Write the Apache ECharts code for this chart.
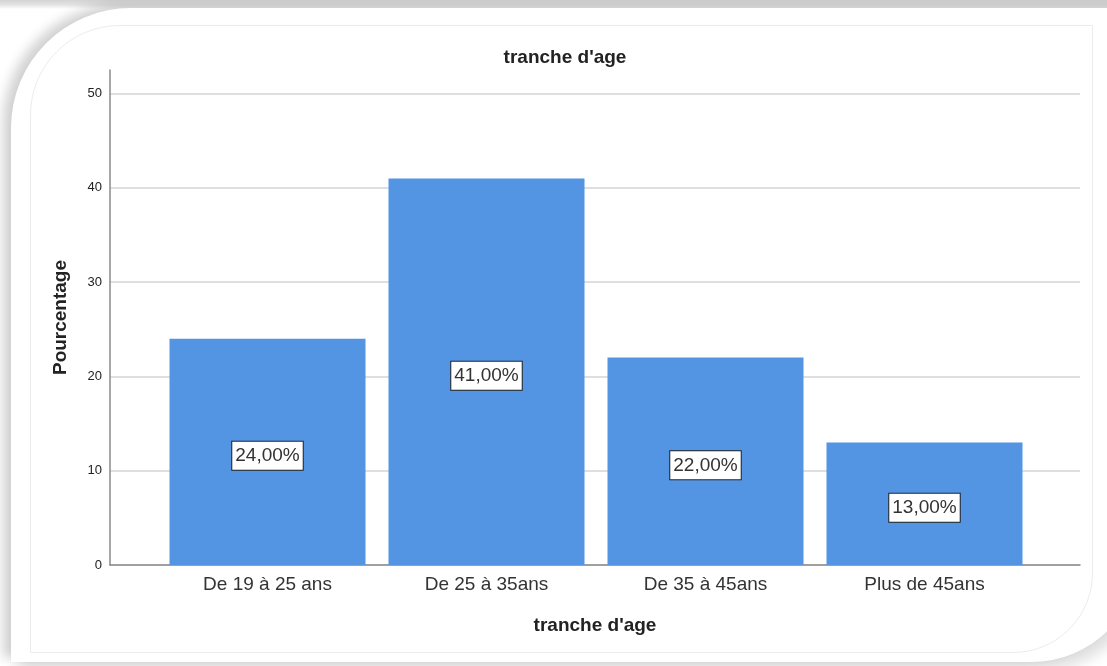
<!DOCTYPE html>
<html>
<head>
<meta charset="utf-8">
<script src="https://cdn.jsdelivr.net/npm/echarts@6/dist/echarts.min.js"></script>
<style>
  html, body { margin: 0; padding: 0; width: 1107px; height: 666px; overflow: hidden; background: #ffffff; }
  #bg { position: absolute; left: 0; top: 0; width: 1107px; height: 666px;
        background: linear-gradient(180deg, #d4d4d4 0px, #e4e4e4 5px, #ffffff 9px); }
  #card { position: absolute; left: 11px; top: 8px; width: 1130px; height: 654px; background: #ffffff;
          border-radius: 120px 0 110px 0;
          box-shadow: -8px -4px 12px rgba(0,0,0,0.18), 8px 8px 14px rgba(0,0,0,0.13); }
  #inner { position: absolute; left: 30px; top: 25px; width: 1061px; height: 626px;
           border: 1px solid #ececec; border-radius: 90px 0 80px 0; }
  #chart { position: absolute; left: 0; top: 0; width: 1107px; height: 666px; }
</style>
</head>
<body>
<div id="bg"></div>
<div id="card"></div>
<div id="inner"></div>
<div id="chart"></div>
<script>
// Age brackets and their share of respondents (percent)
const categories = ['De 19 à 25 ans', 'De 25 à 35ans', 'De 35 à 45ans', 'Plus de 45ans'];
const percentages = [24, 41, 22, 13];
const yTicks = [0, 10, 20, 30, 40, 50];
const yMax = 52.5;

const chart = echarts.init(document.getElementById('chart'), null, { renderer: 'canvas' });

const font = '"Liberation Sans", Arial, sans-serif';
const gridTop = 70, gridBottom = 101;

chart.setOption({
  animation: false,
  backgroundColor: 'transparent',
  title: {
    text: "tranche d'age",
    left: 560,
    top: 43,
    textAlign: 'center',
    textStyle: { fontFamily: font, fontSize: 19, fontWeight: 'bold', color: '#222' }
  },
  grid: [
    // frame grid: axis lines, gridlines and value labels
    { left: 110, right: 27, top: gridTop, bottom: gridBottom },
    // inner grid: bars, inset from the axis on both sides
    { left: 158, right: 73, top: gridTop, bottom: gridBottom }
  ],
  xAxis: [
    {
      gridIndex: 0, type: 'category', data: [''],
      axisLine: { show: true, lineStyle: { color: '#8a8a8a', width: 1.5 } },
      axisTick: { show: false }, axisLabel: { show: false }, splitLine: { show: false },
      name: "tranche d'age", nameLocation: 'middle', nameGap: 51,
      nameTextStyle: { fontFamily: font, fontSize: 19, fontWeight: 'bold', color: '#222' }
    },
    {
      gridIndex: 1, type: 'category', data: categories,
      axisLine: { show: false }, axisTick: { show: false },
      axisLabel: { fontFamily: font, fontSize: 19, color: '#333', margin: 10 }
    }
  ],
  yAxis: [
    {
      gridIndex: 0, type: 'value', min: 0, max: yMax, interval: 10,
      axisLine: { show: true, lineStyle: { color: '#8a8a8a', width: 1.5 } },
      axisTick: { show: false },
      axisLabel: {
        fontFamily: font, fontSize: 13, color: '#222', margin: 8,
        formatter: v => (yTicks.indexOf(v) >= 0 ? String(v) : '')
      },
      splitLine: {
        show: true,
        lineStyle: { color: ['#d4d4d4', '#d4d4d4', '#d4d4d4', '#d4d4d4', '#d4d4d4', '#d4d4d4', 'rgba(0,0,0,0)'], width: 1.5 }
      },
      name: 'Pourcentage', nameLocation: 'middle', nameGap: 40,
      nameTextStyle: { fontFamily: font, fontSize: 19, fontWeight: 'bold', color: '#222' }
    },
    {
      gridIndex: 1, type: 'value', min: 0, max: yMax, interval: 10,
      axisLine: { show: false }, axisTick: { show: false },
      axisLabel: { show: false }, splitLine: { show: false }
    }
  ],
  series: [{
    type: 'bar',
    xAxisIndex: 1, yAxisIndex: 1,
    data: percentages,
    barWidth: 196,
    itemStyle: { color: '#5394e3' },
    label: {
      show: true,
      position: 'inside',
      offset: [0, 4],
      formatter: p => p.value.toFixed(2).replace('.', ',') + '%',
      fontFamily: font, fontSize: 19, color: '#333',
      backgroundColor: '#ffffff',
      borderColor: '#222', borderWidth: 1,
      padding: [5, 3, 4, 3]
    }
  }]
});
</script>
</body>
</html>
